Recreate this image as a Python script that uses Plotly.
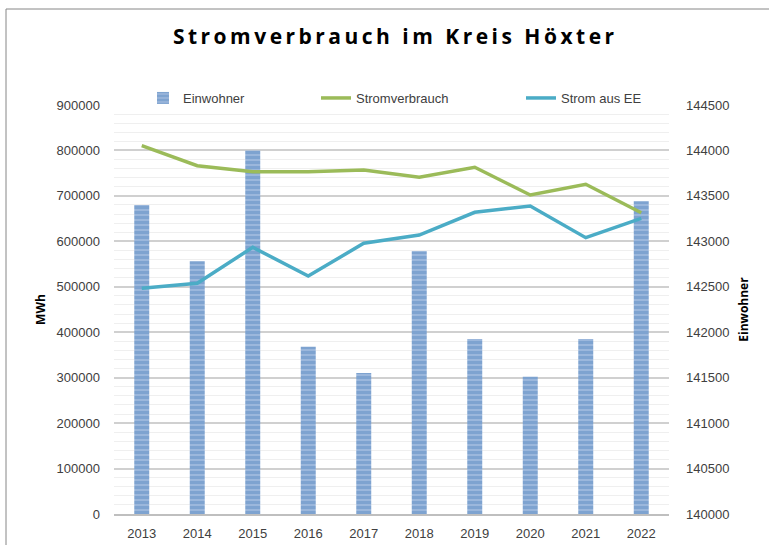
import plotly.graph_objects as go

years = ["2013", "2014", "2015", "2016", "2017", "2018", "2019", "2020", "2021", "2022"]
einwohner = [143400, 142780, 144000, 141840, 141550, 142890, 141925, 141510, 141925, 143440]
stromverbrauch = [810400, 766400, 753200, 753200, 757000, 740900, 762900, 702000, 725500, 663000]
strom_ee = [496700, 507700, 586900, 523700, 595700, 613900, 663900, 677800, 608000, 650700]

title_text = "Stromverbrauch im Kreis Höxter"
spaced_title = "\u2009".join(list(title_text))

W, H = 769, 545
L, R, T, B = 114, 100, 105, 31
pw, ph = W - L - R, H - T - B

def px(x):
    return (x - L) / pw

def py(y):
    return (H - B - y) / ph

fig = go.Figure()

fig.add_trace(go.Bar(
    x=years, y=einwohner, name="Einwohner", yaxis="y",
    width=0.27,
    marker=dict(color="#A7BFE0", line=dict(width=0),
                pattern=dict(shape="-", fgcolor="#4F81BD", bgcolor="#ADC4E3",
                             size=5, solidity=0.75)),
    legend="legend",
))
fig.add_trace(go.Scatter(
    x=years, y=stromverbrauch, name="Stromverbrauch", yaxis="y2",
    mode="lines", line=dict(color="#9BBB59", width=3.5),
    legend="legend2",
))
fig.add_trace(go.Scatter(
    x=years, y=strom_ee, name="Strom aus EE", yaxis="y2",
    mode="lines", line=dict(color="#4BACC6", width=3.5),
    legend="legend3",
))

tick_font = dict(family="Liberation Sans", size=13, color="#404040")
leg_font = dict(family="Liberation Sans", size=13, color="#404040")

fig.update_layout(
    width=W, height=H,
    margin=dict(l=L, r=R, t=T, b=B, autoexpand=False),
    paper_bgcolor="white", plot_bgcolor="white",
    title=dict(text=spaced_title, x=px(398), xanchor="center",
               y=1 - 37 / H, yanchor="middle",
               font=dict(family="Open Sans", size=21, color="#000000", weight="bold")),
    xaxis=dict(type="category", showgrid=False, showline=True, linecolor="#BFBFBF",
               linewidth=2, tickfont=tick_font, ticks="", ticklabelstandoff=6,
               range=[-0.5, 9.5]),
    yaxis=dict(side="right", range=[140000, 144500], dtick=500, tickformat="d",
               showgrid=True, gridcolor="#D0D0D0", gridwidth=1.5,
               minor=dict(dtick=100, showgrid=True, gridcolor="#EFEFEF", gridwidth=1),
               zeroline=False, showline=False, tickfont=tick_font, ticks="",
               ticklabelstandoff=16,
               title=dict(text="Einwohner", standoff=11,
                          font=dict(family="Open Sans", size=12, color="#000000", weight="bold"))),
    yaxis2=dict(side="left", overlaying="y", range=[0, 900000], dtick=100000, tickformat="d",
                showgrid=False, zeroline=False, showline=False, tickfont=tick_font, ticks="",
                ticklabelstandoff=13,
                title=dict(text="MWh", standoff=8,
                           font=dict(family="Open Sans", size=12, color="#000000", weight="bold"))),
    legend=dict(orientation="h", x=px(143), xanchor="left", y=py(98), yanchor="middle",
                font=leg_font, bgcolor="rgba(0,0,0,0)"),
    legend2=dict(orientation="h", x=px(316), xanchor="left", y=py(98), yanchor="middle",
                 font=leg_font, bgcolor="rgba(0,0,0,0)"),
    legend3=dict(orientation="h", x=px(521), xanchor="left", y=py(98), yanchor="middle",
                 font=leg_font, bgcolor="rgba(0,0,0,0)"),
    showlegend=True,
    shapes=[dict(type="rect", xref="paper", yref="paper",
                 x0=px(6), x1=px(800), y0=py(580), y1=py(9),
                 line=dict(color="#868686", width=1), fillcolor="rgba(0,0,0,0)",
                 layer="below")],
)

fig.write_html("out.html", config={"displayModeBar": False},
               post_script="document.body.style.margin='0';")
